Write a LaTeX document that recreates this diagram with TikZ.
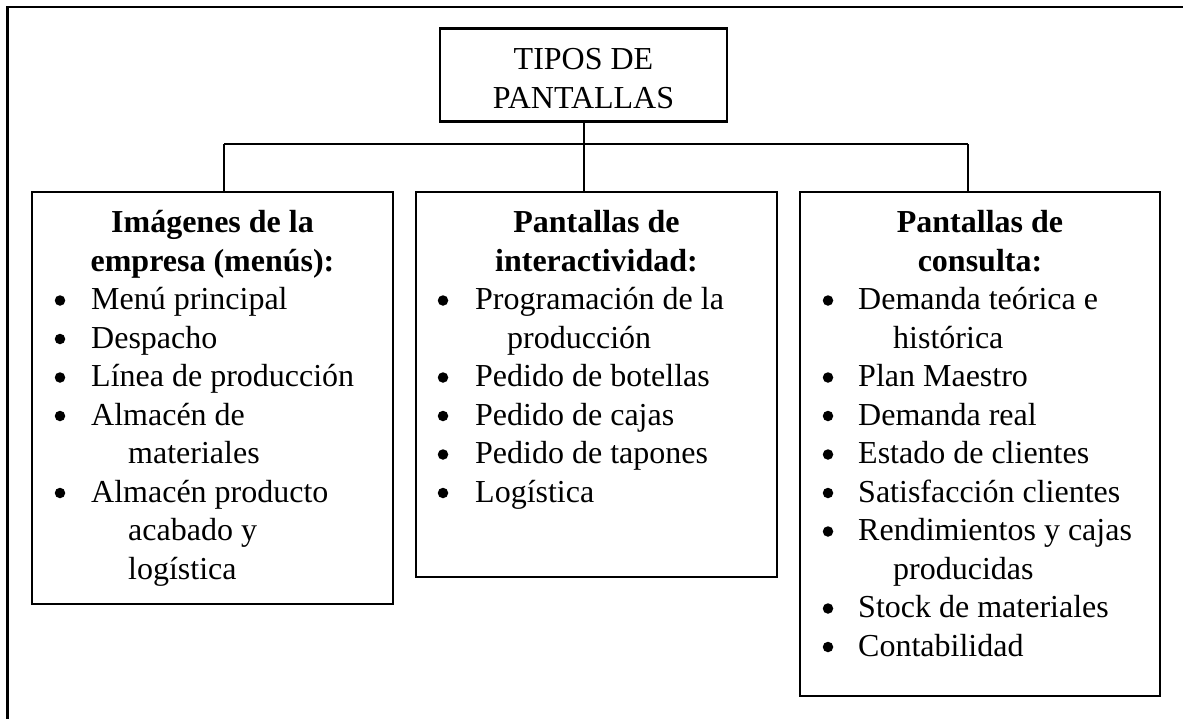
\documentclass[tikz,border=0pt]{standalone}
\usepackage{fontspec}
\setmainfont{Liberation Serif}
\begin{document}
\begin{tikzpicture}[x=1pt,y=-1pt,
  box/.style={draw, line width=2.1pt, inner sep=0pt, outer sep=0pt},
  conn/.style={line width=2pt},
  frame/.style={line width=2.1pt},
  txt/.style={anchor=base west, inner sep=0pt, font=\fontsize{32}{38.5}\selectfont},
  head/.style={anchor=base, inner sep=0pt, font=\bfseries\fontsize{32}{38.5}\selectfont},
  plain/.style={anchor=base, inner sep=0pt, font=\fontsize{32}{38.5}\selectfont},
  bul/.style={circle, fill=black, draw=none, inner sep=0pt, minimum size=10.5pt, yshift=9pt}]
\useasboundingbox (0,0) rectangle (1183,718);
% outer frame (left and top)
\coordinate (fbl) at (7.5,719);
\coordinate (ftl) at (7.5,7);
\coordinate (ftr) at (1184,7);
\draw[frame] (fbl) -- (ftl) -- (ftr);
% boxes
\node[box, minimum width=287pt, minimum height=93pt] (top) at (583.5,75) {};
\node[box, minimum width=361pt, minimum height=412pt] (left) at (212.5,398) {};
\node[box, minimum width=361pt, minimum height=385pt] (mid) at (596.5,384.5) {};
\node[box, minimum width=360pt, minimum height=504pt] (right) at (980,444) {};
% connectors
\coordinate (jl) at (224,144);
\coordinate (jr) at (968,144);
\draw[conn] (top.south) -- (top.south |- mid.north);
\draw[conn] (jl) -- (jr);
\draw[conn] (jl) -- (jl |- left.north);
\draw[conn] (jr) -- (jr |- right.north);
% top text
\node[plain] (t1) at (583.5,69.5) {TIPOS DE};
\node[plain] (t2) at (583.5,108) {PANTALLAS};
% left box text
\node[head] (lh1) at (212.5,232.5) {Imágenes de la};
\node[head] (lh2) at (212.5,271) {empresa (menús):};
\node[bul] (lb1) at (60,309.5) {};
\node[txt] (li1) at (91,309.5) {Menú principal};
\node[bul] (lb2) at (60,348) {};
\node[txt] (li2) at (91,348) {Despacho};
\node[bul] (lb3) at (60,386.5) {};
\node[txt] (li3) at (91,386.5) {Línea de producción};
\node[bul] (lb4) at (60,425) {};
\node[txt] (li4) at (91,425) {Almacén de};
\node[txt] (li4b) at (128,463.5) {materiales};
\node[bul] (lb5) at (60,502) {};
\node[txt] (li5) at (91,502) {Almacén producto};
\node[txt] (li5b) at (128,540.5) {acabado y};
\node[txt] (li5c) at (128,579) {logística};
% middle box text
\node[head] (mh1) at (596.5,232.5) {Pantallas de};
\node[head] (mh2) at (596.5,271) {interactividad:};
\node[bul] (mb1) at (443,309.5) {};
\node[txt] (mi1) at (475,309.5) {Programación de la};
\node[txt] (mi1b) at (507,348) {producción};
\node[bul] (mb2) at (443,386.5) {};
\node[txt] (mi2) at (475,386.5) {Pedido de botellas};
\node[bul] (mb3) at (443,425) {};
\node[txt] (mi3) at (475,425) {Pedido de cajas};
\node[bul] (mb4) at (443,463.5) {};
\node[txt] (mi4) at (475,463.5) {Pedido de tapones};
\node[bul] (mb5) at (443,502) {};
\node[txt] (mi5) at (475,502) {Logística};
% right box text
\node[head] (rh1) at (980,232.5) {Pantallas de};
\node[head] (rh2) at (980,271) {consulta:};
\node[bul] (rb1) at (828,309.5) {};
\node[txt] (ri1) at (858,309.5) {Demanda teórica e};
\node[txt] (ri1b) at (893,348) {histórica};
\node[bul] (rb2) at (828,386.5) {};
\node[txt] (ri2) at (858,386.5) {Plan Maestro};
\node[bul] (rb3) at (828,425) {};
\node[txt] (ri3) at (858,425) {Demanda real};
\node[bul] (rb4) at (828,463.5) {};
\node[txt] (ri4) at (858,463.5) {Estado de clientes};
\node[bul] (rb5) at (828,502) {};
\node[txt] (ri5) at (858,502) {Satisfacción clientes};
\node[bul] (rb6) at (828,540.5) {};
\node[txt] (ri6) at (858,540.5) {Rendimientos y cajas};
\node[txt] (ri6b) at (893,579) {producidas};
\node[bul] (rb7) at (828,617.5) {};
\node[txt] (ri7) at (858,617.5) {Stock de materiales};
\node[bul] (rb8) at (828,656) {};
\node[txt] (ri8) at (858,656) {Contabilidad};
\end{tikzpicture}
\end{document}
